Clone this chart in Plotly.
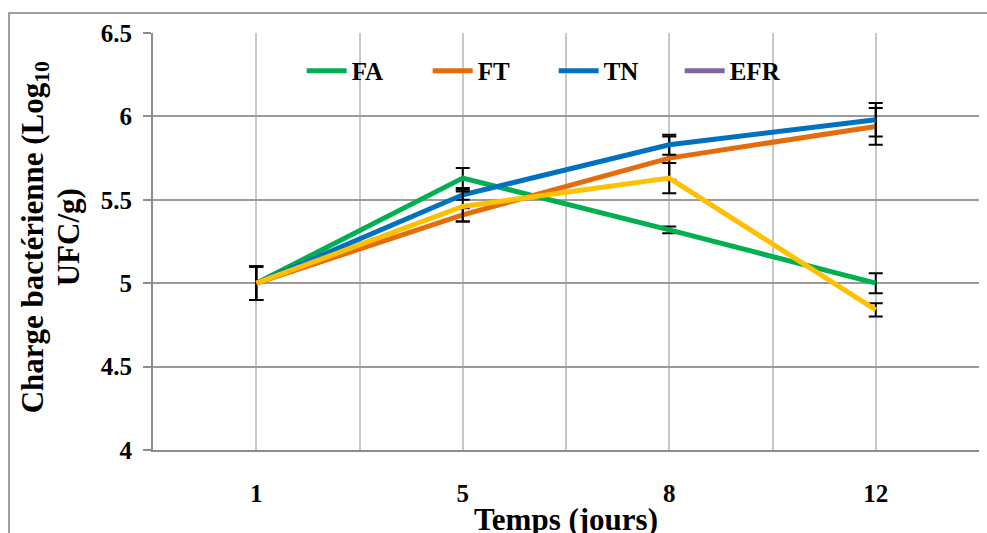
import plotly.graph_objects as go

days = ["1", "5", "8", "12"]
fa = [5.00, 5.63, 5.32, 5.00]
fa_err = [0.10, 0.06, 0.02, 0.06]
ft = [5.00, 5.41, 5.75, 5.94]
ft_err = [0.10, 0.04, 0.13, 0.11]
tn = [5.00, 5.53, 5.83, 5.98]
tn_err = [0.10, 0.03, 0.06, 0.10]
efr = [5.00, 5.46, 5.63, 4.84]
efr_err = [0.10, 0.09, 0.09, 0.04]

xpos = list(range(len(days)))
FONT = "Liberation Serif"

fig = go.Figure()

def add(name, y, err, color, showlegend=True):
    fig.add_trace(go.Scatter(
        x=xpos, y=y, name=name, mode="lines",
        line=dict(color=color, width=5),
        error_y=dict(type="data", array=err, visible=True,
                     color="black", thickness=2, width=7),
        showlegend=showlegend,
    ))

add("FA", fa, fa_err, "#00B050")
add("FT", ft, ft_err, "#E46C0A")
add("TN", tn, tn_err, "#0070C0")
fig.add_trace(go.Scatter(x=[None], y=[None], name="EFR", mode="lines",
                         line=dict(color="#8064A2", width=5)))
add("EFR ", efr, efr_err, "#FFC000", showlegend=False)

fig.update_layout(
    width=987, height=533,
    margin=dict(l=153, r=8, t=33, b=83),
    paper_bgcolor="white", plot_bgcolor="white",
    font=dict(family=FONT, size=25, color="black", weight="bold"),
    legend=dict(orientation="h", x=0.18, y=0.909, xanchor="left", yanchor="middle",
                bgcolor="rgba(0,0,0,0)",
                font=dict(family=FONT, size=25, color="black", weight="bold"),
                entrywidth=71, entrywidthmode="pixels", itemwidth=40),
    xaxis=dict(
        range=[-0.5, 3.5], tickmode="array", tickvals=xpos, ticktext=days,
        showgrid=True, gridcolor="#C8C8C8", gridwidth=1.5,
        minor=dict(tickmode="array", tickvals=[-0.5, 0.5, 1.5, 2.5, 3.5],
                   showgrid=True, gridcolor="#C8C8C8", gridwidth=1.5),
        showline=True, linecolor="#8C8C8C", linewidth=2,
        ticks="", ticklabelstandoff=20,
        tickfont=dict(family=FONT, size=25, color="black", weight="bold"),
        zeroline=False,
    ),
    yaxis=dict(
        range=[4, 6.5], tickvals=[4, 4.5, 5, 5.5, 6, 6.5],
        ticktext=["4", "4.5", "5", "5.5", "6", "6.5"],
        showgrid=True, gridcolor="#9A9A9A", gridwidth=1.5,
        showline=True, linecolor="#8C8C8C", linewidth=2,
        ticks="outside", ticklen=8, tickcolor="#8C8C8C", tickwidth=1.5,
        ticklabelstandoff=6,
        tickfont=dict(family=FONT, size=25, color="black", weight="bold"),
        zeroline=False,
    ),
    annotations=[
        dict(text="<b>Charge bactérienne (Log<sub>10</sub></b>", textangle=-90,
             xref="paper", yref="paper", x=(35 - 153) / 826, y=0.51,
             xanchor="center", yanchor="middle", showarrow=False,
             font=dict(family=FONT, size=31, color="black")),
        dict(text="<b>UFC/g)</b>", textangle=-90,
             xref="paper", yref="paper", x=(68 - 153) / 826, y=0.51,
             xanchor="center", yanchor="middle", showarrow=False,
             font=dict(family=FONT, size=31, color="black")),
        dict(text="<b>Temps (jours)</b>",
             xref="paper", yref="paper", x=0.5, y=(450 - 519) / 417,
             xanchor="center", yanchor="middle", showarrow=False,
             font=dict(family=FONT, size=31, color="black")),
    ],
    shapes=[dict(type="rect", xref="paper", yref="paper",
                 x0=(9 - 153) / 826, x1=(995 - 153) / 826,
                 y0=(450 - 560) / 417, y1=(450 - 13) / 417,
                 line=dict(color="#808080", width=1.5), layer="below")],
)

fig.write_html("out.html")
